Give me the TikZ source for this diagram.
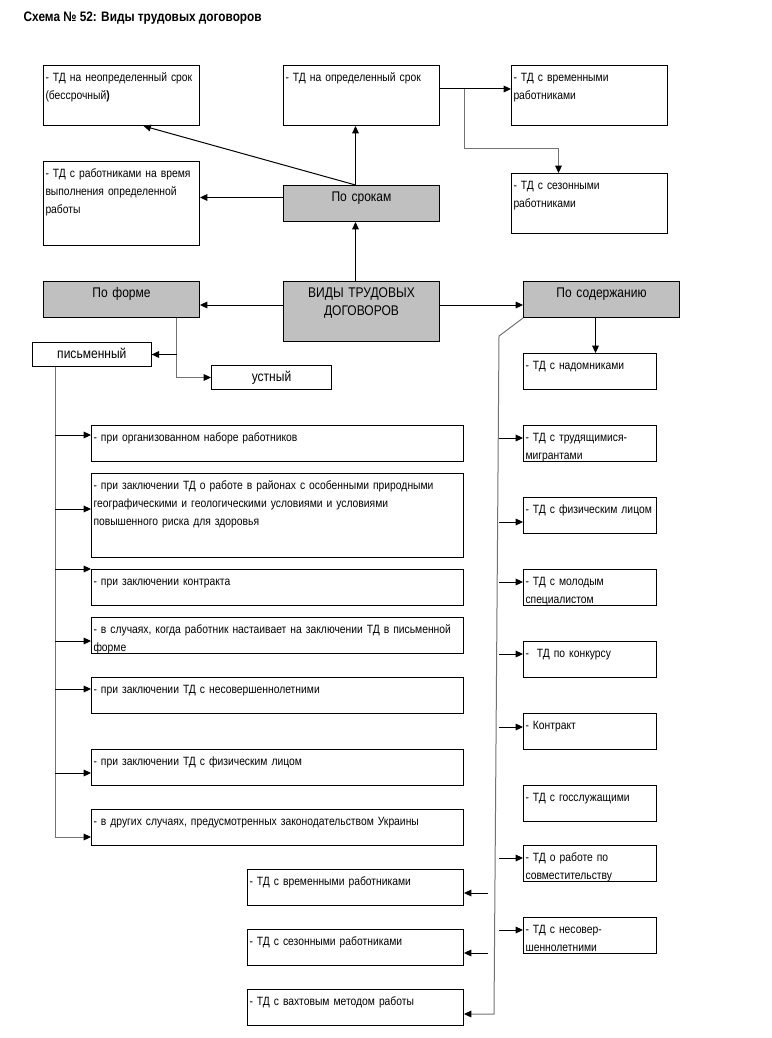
\documentclass[tikz,border=0pt]{standalone}
\usepackage{fontspec}
\setmainfont{Liberation Sans}[FakeStretch=0.86]
\usepackage{xcolor}
\usetikzlibrary{arrows.meta,calc}
\definecolor{greybox}{RGB}{192,192,192}
\newcommand{\tdfont}{\fontsize{9}{13.5}\selectfont}
\newcommand{\tdbig}{\fontsize{10.5}{13.5}\selectfont}

\begin{document}
\begin{tikzpicture}[x=0.75pt, y=-0.75pt, font=\tdfont,
  box/.style={draw, line width=0.75pt, anchor=north west, inner xsep=1.5pt, inner ysep=3pt, text height=9pt, align=left},
  grey/.style={box, fill=greybox, align=center, font=\tdbig},
  kind/.style={box, align=center, font=\tdbig},
  sz/.style 2 args={text width=#1, text depth=#2},
  arr/.style={line width=0.75pt, -{Triangle[length=5.5pt,width=5pt,color=black]}},
  elbow/.style={arr, draw=black!55}]
\useasboundingbox (0,0) rectangle (771,1038);
\node[anchor=base west, font=\fontsize{10.3}{12}\selectfont\bfseries] (title) at (19,22) {Схема № 52: Виды трудовых договоров};

% по срокам
\node[box, sz={114pt}{30pt}] (indef) at (43,65) {- ТД на неопределенный срок\\(бессрочный\textbf{)}};
\node[box, sz={114pt}{30pt}] (def) at (283,65) {- ТД на определенный срок};
\node[box, sz={114pt}{30pt}] (temp) at (511,65) {- ТД с временными\\работниками};
\node[box, sz={114pt}{30pt}] (season) at (511,173) {- ТД с сезонными\\работниками};
\node[box, sz={114pt}{48pt}] (task) at (43,161) {- ТД с работниками на время\\выполнения определенной\\работы};
\node[grey, sz={114pt}{12pt}] (sroki) at (283,185) {По срокам};

% главный блок
\node[grey, sz={114pt}{30pt}] (vidy) at (283,281) {ВИДЫ ТРУДОВЫХ\\ДОГОВОРОВ};
\node[grey, sz={114pt}{12pt}] (forma) at (43,281) {По форме};
\node[grey, sz={114pt}{12pt}] (soder) at (523,281) {По содержанию};

% по форме
\node[kind, sz={86pt}{3pt}] (pism) at (32,342) {письменный};
\node[kind, sz={87pt}{3pt}] (ustn) at (211,365) {устный};
\node[box, sz={276pt}{12pt}] (l1) at (91,425) {- при организованном наборе работников};
\node[box, sz={276pt}{48pt}] (l2) at (91,473) {- при заключении ТД о работе в районах с особенными природными\\географическими и геологическими условиями и условиями\\повышенного риска для здоровья};
\node[box, sz={276pt}{12pt}] (l3) at (91,569) {- при заключении контракта};
\node[box, sz={276pt}{12pt}] (l4) at (91,617) {- в случаях, когда работник настаивает на заключении ТД в письменной\\форме};
\node[box, sz={276pt}{12pt}] (l5) at (91,677) {- при заключении ТД с несовершеннолетними};
\node[box, sz={276pt}{12pt}] (l6) at (91,749) {- при заключении ТД с физическим лицом};
\node[box, sz={276pt}{12pt}] (l7) at (91,809) {- в других случаях, предусмотренных законодательством Украины};

% по содержанию
\node[box, sz={97pt}{12pt}] (r1) at (523,353) {- ТД с надомниками};
\node[box, sz={97pt}{12pt}] (r2) at (523,425) {- ТД с трудящимися-\\мигрантами};
\node[box, sz={97pt}{12pt}] (r3) at (523,497) {- ТД с физическим лицом};
\node[box, sz={97pt}{12pt}] (r4) at (523,569) {- ТД с молодым\\специалистом};
\node[box, sz={97pt}{12pt}] (r5) at (523,641) {-\ \ ТД по конкурсу};
\node[box, sz={97pt}{12pt}] (r6) at (523,713) {- Контракт};
\node[box, sz={97pt}{12pt}] (r7) at (523,785) {- ТД с госслужащими};
\node[box, sz={97pt}{12pt}] (r8) at (523,845) {- ТД о работе по\\совместительству};
\node[box, sz={97pt}{12pt}] (r9) at (523,917) {- ТД с несовер-\\шеннолетними};
\node[box, sz={159pt}{12pt}] (b1) at (247,869) {- ТД с временными работниками};
\node[box, sz={159pt}{12pt}] (b2) at (247,929) {- ТД с сезонными работниками};
\node[box, sz={159pt}{12pt}] (b3) at (247,989) {- ТД с вахтовым методом работы};

% стрелки сверху
\coordinate (sk) at ($(sroki.north)+(-6,0)$);
\draw[arr] (sk |- vidy.north) -- (sk |- sroki.south);
\draw[arr] (sk) -- (sk |- def.south);
\draw[arr] (sk) -- ($(indef.south)+(22,0)$);
\coordinate (sw) at ($(sroki.west)+(0,-6)$);
\draw[arr] (sw) -- (sw -| task.east);
\coordinate (de) at ($(def.north east)+(0,24)$);
\draw[arr] (de) -- (de -| temp.west);
\draw[elbow] ($(de)+(24,0)$) -- ++(0,60) -| ($(season.north)+(-31,0)$);

\coordinate (vw) at ($(vidy.north west)+(0,24)$);
\draw[arr] (vw) -- (vw -| forma.east);
\coordinate (ve) at ($(vidy.north east)+(0,24)$);
\draw[arr] (ve) -- (ve -| soder.west);

% форма
\coordinate (fj) at ($(forma.south)+(55,0)$);
\draw[elbow] (fj) |- (ustn.west);
\draw[arr] (fj |- pism.east) -- (pism.east);
\coordinate (pt) at ($(pism.south west)+(23,0)$);
\draw[elbow] (pt) |- ($(l7.north west)+(0,28)$);
\foreach \n/\d in {l1/10, l2/36, l3/0, l4/24, l5/12, l6/24}
  \draw[arr] ($(\n.north west)+(-36,\d)$) -- ($(\n.north west)+(0,\d)$);

% содержание
\coordinate (sd) at ($(soder.south)+(-6,0)$);
\draw[arr] (sd) -- (sd |- r1.north);
\draw[elbow] (soder.south west) -- ++(-24,18) -- ($(b3.north east)+(30,25)$) -- ($(b3.north east)+(0,25)$);
\foreach \n/\d in {r2/13, r3/25, r4/13, r5/13, r6/14, r8/13, r9/13}
  \draw[arr] ($(\n.north west)+(-24,\d)$) -- ($(\n.north west)+(0,\d)$);
\foreach \n in {b1, b2}
  \draw[arr] ($(\n.north east)+(24,24)$) -- ($(\n.north east)+(0,24)$);
\end{tikzpicture}
\end{document}
